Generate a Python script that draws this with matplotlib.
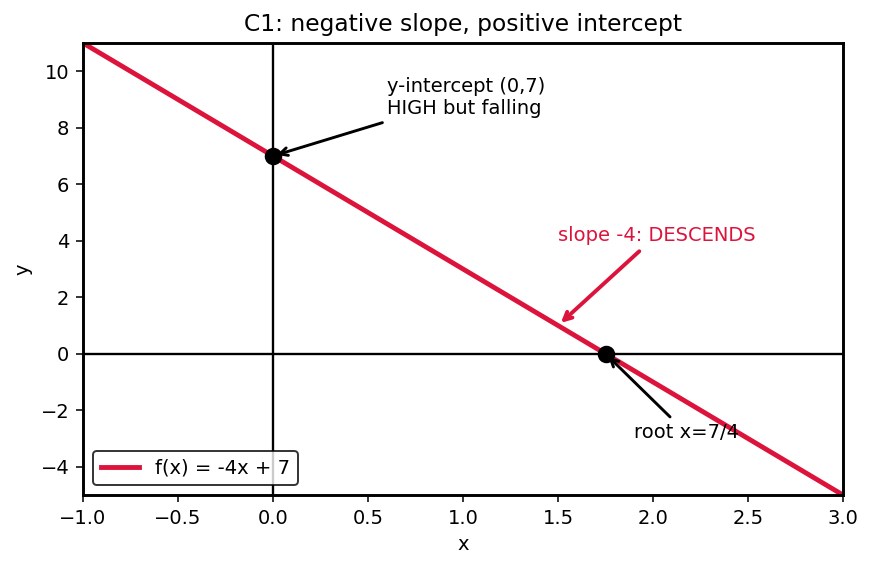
import numpy as np
import matplotlib
matplotlib.use("Agg")
import matplotlib.pyplot as plt

slope = -4
intercept = 7
x_range = [-1, 3]
points_x = [0, 1.75]
points_y = [7, 0]
title = "C1: negative slope, positive intercept"
legend_label = "f(x) = -4x + 7"

DPI = 140
fig = plt.figure(figsize=(872/DPI, 569/DPI), dpi=DPI)
ax = fig.add_axes([83/872, 1-495/569, 760/872, 452/569])

x = np.linspace(x_range[0], x_range[1], 200)
ax.axhline(0, color="black", lw=1.2)
ax.axvline(0, color="black", lw=1.2)
ax.plot(x, slope*x + intercept, color="#DC143C", lw=2.5, label=legend_label)
ax.plot(points_x, points_y, "o", color="black", ms=8, zorder=5)

ax.annotate("y-intercept (0,7)\nHIGH but falling", xy=(0, 7), xytext=(0.6, 8.5),
            arrowprops=dict(arrowstyle="->", color="black", lw=1.5), fontsize=10)
ax.annotate("root x=7/4", xy=(1.75, 0), xytext=(1.9, -3),
            arrowprops=dict(arrowstyle="->", color="black", lw=1.5), fontsize=10)
ax.annotate("slope -4: DESCENDS", xy=(1.5, 1), xytext=(1.5, 4),
            arrowprops=dict(arrowstyle="->", color="#DC143C", lw=2), color="#DC143C", fontsize=10)

ax.set_xlim(-1, 3)
ax.set_ylim(-5, 11)
ax.set_xlabel("x")
ax.set_ylabel("y")
ax.set_title(title, fontsize=12)
for s in ax.spines.values():
    s.set_linewidth(1.5)
leg = ax.legend(loc="lower left", fontsize=10, edgecolor="black")
leg.get_frame().set_linewidth(1.0)
fig.savefig("out.png", dpi=DPI)
